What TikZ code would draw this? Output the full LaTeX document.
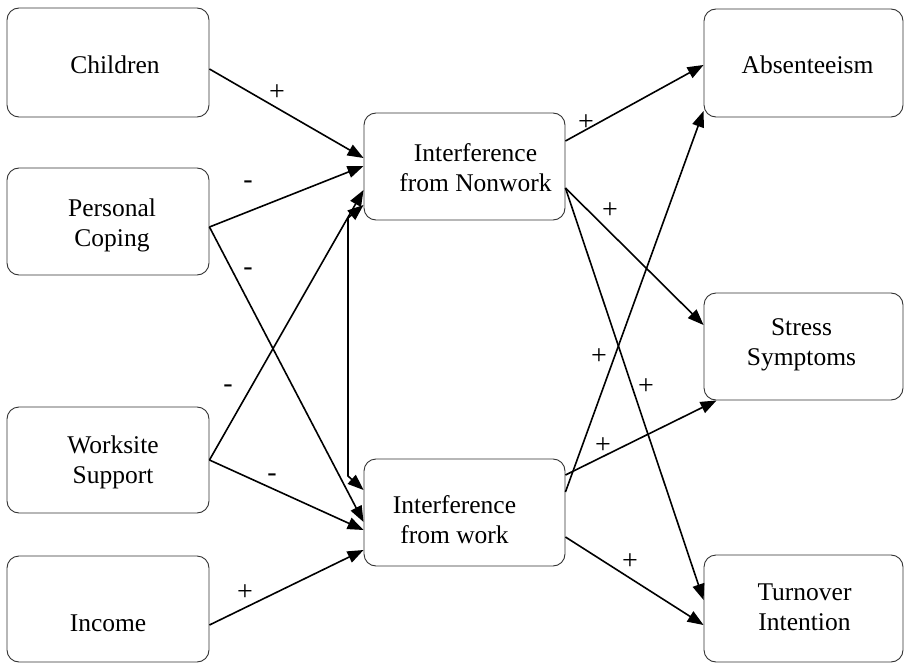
\documentclass[tikz,border=0pt]{standalone}
\usepackage{fontspec}
\setmainfont{Liberation Serif}
\usetikzlibrary{arrows.meta}
\begin{document}
\begin{tikzpicture}[x=1pt,y=-1pt,
  box/.style={draw=black!80, line width=0.9pt, rounded corners=12pt, inner sep=0pt, minimum height=107pt},
  lbox/.style={box, minimum width=202pt},
  mbox/.style={box, minimum width=201pt},
  rbox/.style={box, minimum width=199pt},
  txt/.style={font=\fontsize{25.5}{30}\selectfont, align=center, inner sep=0pt},
  arr/.style={line width=1.6pt, -{Triangle[length=16pt,width=12pt]}},
  barr/.style={line width=1.6pt, {Triangle[length=16pt,width=12pt]}-{Triangle[length=16pt,width=12pt]}},
  sg/.style={font=\fontsize{28}{28}\selectfont, inner sep=0pt}]
\useasboundingbox (0,0) rectangle (905,666);

% left column
\node[lbox, minimum height=109pt, label={[txt,xshift=7pt,yshift=-2pt]center:Children}] (ch) at (108,62.5) {};
\node[lbox, label={[txt,xshift=4pt,yshift=-4pt]center:Personal\\Coping}] (pc) at (108,221.5) {};
\node[lbox, minimum height=106pt, label={[txt,xshift=5pt,yshift=-2pt]center:Worksite\\Support}] (ws) at (108,460) {};
\node[lbox, minimum height=106pt, label={[txt,yshift=-14pt]center:Income}] (inc) at (108,609) {};

% middle column
\node[mbox, label={[txt,xshift=11pt,yshift=-1pt]center:Interference\\from Nonwork}] (nw) at (464.5,166.5) {};
\node[mbox, label={[txt,xshift=-10pt,yshift=-7pt]center:Interference\\from work}] (ifw) at (464.5,512.5) {};

% right column
\node[rbox, minimum height=108pt, label={[txt,xshift=4pt,yshift=-2pt]center:Absenteeism}] (ab) at (803.5,63) {};
\node[rbox, label={[txt,xshift=-2pt,yshift=2pt]center:Stress\\Symptoms}] (st) at (803.5,346.5) {};
\node[rbox, label={[txt,xshift=1pt,yshift=1pt]center:Turnover\\Intention}] (to) at (803.5,608.5) {};

% bend points of the two-headed connector
\coordinate (b1) at (348,218);
\coordinate (b2) at (348,476);

% left connectors
\draw[arr] (ch.east |- 0,69) -- (nw.west |- 0,158);
\draw[arr] (pc.east |- 0,227) -- (nw.west |- 0,166);
\draw[arr] (pc.east |- 0,227) -- (ifw.west |- 0,522);
\draw[arr] (ws.east |- 0,460) -- (nw.west |- 0,190);
\draw[arr] (ws.east |- 0,460) -- (ifw.west |- 0,530);
\draw[arr] (inc.east |- 0,625) -- (ifw.west |- 0,550);
\draw[barr] (nw.west |- 0,205) -- (b1) -- (b2) -- (ifw.west |- 0,490);

% right connectors
\draw[arr] (nw.east |- 0,141) -- (ab.west |- 0,65);
\draw[arr] (nw.east |- 0,188) -- (st.west |- 0,325);
\draw[arr] (nw.east |- 0,188) -- (to.west |- 0,600);
\draw[arr] (ifw.east |- 0,492) -- (ab.west |- 0,111);
\draw[arr] (ifw.east |- 0,475) -- ([xshift=13pt]st.south west);
\draw[arr] (ifw.east |- 0,537) -- (to.west |- 0,625);

% signs
\node[sg] (s1) at (277,93) {+};
\node[sg] (s2) at (248,185) {-};
\node[sg] (s3) at (248,272) {-};
\node[sg] (s4) at (228,389) {-};
\node[sg] (s5) at (272,478) {-};
\node[sg] (s6) at (245,593) {+};
\node[sg] (s7) at (586,123) {+};
\node[sg] (s8) at (610,211) {+};
\node[sg] (s9) at (599,357) {+};
\node[sg] (s10) at (646,387) {+};
\node[sg] (s11) at (603,446) {+};
\node[sg] (s12) at (630,562) {+};
\end{tikzpicture}
\end{document}
